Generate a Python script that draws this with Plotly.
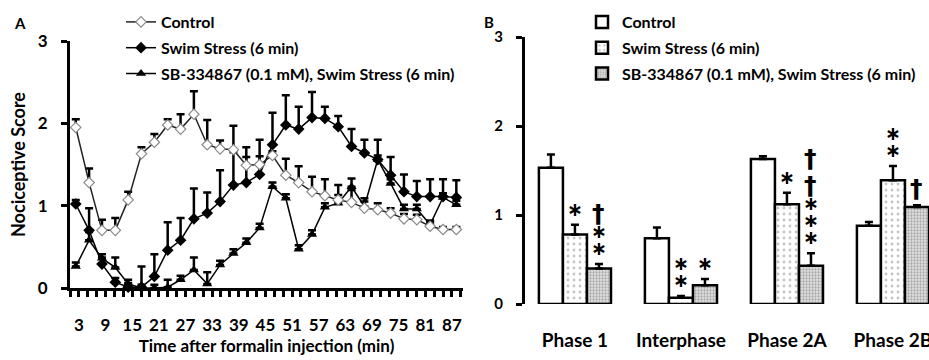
import plotly.graph_objects as go

# ---------------- Panel A data ----------------
time_min = [2.3, 5.3, 8.2, 11.2, 14.1, 17.1, 20.0, 23.0, 25.9, 28.9,
            31.9, 34.8, 37.8, 40.7, 43.7, 46.6, 49.6, 52.5, 55.5, 58.4,
            61.4, 64.4, 67.3, 70.3, 73.2, 76.2, 79.1, 82.1, 85.0, 88.0]
control = [1.95, 1.28, 0.70, 0.70, 1.07, 1.63, 1.77, 1.98, 1.93, 2.11,
           1.74, 1.69, 1.68, 1.49, 1.50, 1.61, 1.37, 1.28, 1.17, 1.12,
           1.07, 1.04, 0.97, 0.95, 0.91, 0.84, 0.83, 0.75, 0.71, 0.71]
control_err = [0.10, 0.17, 0.13, 0.15, 0.10, 0.08, 0.10, 0.07, 0.18, 0.28,
               0.30, 0.10, 0.29, 0.10, 0.10, 0.05, 0.20, 0.20, 0.18, 0.20,
               0.18, 0.15, 0.08, 0.08, 0.06, 0.06, 0.06, 0.05, 0.03, 0.03]
swim = [1.02, 0.70, 0.29, 0.07, 0.01, 0.01, 0.14, 0.46, 0.58, 0.84,
        0.91, 1.05, 1.25, 1.28, 1.38, 1.74, 1.98, 1.93, 2.07, 2.06,
        1.96, 1.72, 1.64, 1.56, 1.37, 1.17, 1.11, 1.11, 1.11, 1.10]
swim_err = [0.05, 0.27, 0.08, 0.05, 0.05, 0.25, 0.27, 0.34, 0.27, 0.37,
            0.25, 0.38, 0.40, 0.43, 0.42, 0.39, 0.36, 0.27, 0.31, 0.14,
            0.13, 0.21, 0.16, 0.24, 0.22, 0.21, 0.19, 0.21, 0.21, 0.21]
sb = [0.26, 0.58, 0.36, 0.25, 0.05, 0.00, 0.00, 0.01, 0.10, 0.22,
      0.05, 0.28, 0.42, 0.55, 0.73, 1.23, 1.09, 0.47, 0.65, 0.98,
      1.03, 1.23, 0.99, 1.56, 1.27, 0.96, 0.96, 0.77, 1.10, 1.01]
sb_err = [0.05, 0.10, 0.05, 0.12, 0.05, 0.04, 0.04, 0.09, 0.05, 0.15,
          0.14, 0.05, 0.05, 0.05, 0.05, 0.05, 0.05, 0.05, 0.05, 0.05,
          0.10, 0.10, 0.10, 0.05, 0.05, 0.05, 0.05, 0.05, 0.05, 0.05]

# ---------------- Panel B data ----------------
phases = ["Phase 1", "Interphase", "Phase 2A", "Phase 2B"]
ctrl_bar = [1.53, 0.74, 1.63, 0.88]
ctrl_bar_err = [0.15, 0.12, 0.03, 0.04]
swim_bar = [0.78, 0.07, 1.12, 1.39]
swim_bar_err = [0.11, 0.02, 0.13, 0.16]
sb_bar = [0.40, 0.21, 0.43, 1.09]
sb_bar_err = [0.05, 0.07, 0.14, 0.02]
# significance marks, listed bottom -> top
swim_marks = ["*", "**", "*", "**"]
sb_marks = ["**†", "*", "***††", "†"]

names = ["Control", "Swim Stress (6 min)", "SB-334867 (0.1 mM), Swim Stress (6 min)"]

FONT = "Lato"
W, H = 929, 360

fig = go.Figure()

def err(arr):
    return dict(type="data", symmetric=False, array=arr, arrayminus=[0] * len(arr),
                color="black", thickness=2.5, width=4)

# Panel A traces
fig.add_trace(go.Scatter(x=time_min, y=swim, name=names[1], mode="lines+markers",
                         line=dict(color="black", width=1.5),
                         marker=dict(symbol="diamond", size=9, color="black"),
                         error_y=err(swim_err), cliponaxis=False, legendgroup="a2",
                         xaxis="x", yaxis="y", legend="legend", legendrank=2))
fig.add_trace(go.Scatter(x=time_min, y=sb, name=names[2], mode="lines+markers",
                         line=dict(color="black", width=1.5),
                         marker=dict(symbol="triangle-up", size=9, color="black"),
                         error_y=err(sb_err), cliponaxis=False, legendgroup="a3",
                         xaxis="x", yaxis="y", legend="legend", legendrank=3))
fig.add_trace(go.Scatter(x=time_min, y=control, name=names[0], mode="lines+markers",
                         line=dict(color="#222222", width=1.5),
                         marker=dict(symbol="diamond", size=8, color="white",
                                     line=dict(color="#8a8a8a", width=1.2)),
                         error_y=err(control_err), cliponaxis=False, legendgroup="a1",
                         xaxis="x", yaxis="y", legend="legend", legendrank=1))

# Panel B traces
bar_line = dict(color="black", width=2.5)
fig.add_trace(go.Bar(x=phases, y=ctrl_bar, name=names[0], legendgroup="b1",
                     marker=dict(color="white", line=bar_line),
                     error_y=err(ctrl_bar_err), xaxis="x2", yaxis="y2", legend="legend2"))
fig.add_trace(go.Bar(x=phases, y=swim_bar, name=names[1], legendgroup="b2",
                     marker=dict(color="white", line=bar_line,
                                 pattern=dict(shape=".", fgcolor="#8c8c8c", bgcolor="white",
                                              size=6, solidity=0.18)),
                     error_y=err(swim_bar_err), xaxis="x2", yaxis="y2", legend="legend2"))
fig.add_trace(go.Bar(x=phases, y=sb_bar, name=names[2], legendgroup="b3",
                     marker=dict(color="white", line=bar_line,
                                 pattern=dict(shape=".", fgcolor="#6e6e6e", bgcolor="#e2e2e2",
                                              size=3, solidity=0.45)),
                     error_y=err(sb_bar_err), xaxis="x2", yaxis="y2", legend="legend2"))

# significance annotations
bargap = 0.32
bw = (1 - bargap) / 3
for gi in range(len(phases)):
    for j, (vals, errs, marks) in enumerate([(swim_bar, swim_bar_err, swim_marks),
                                             (sb_bar, sb_bar_err, sb_marks)]):
        xpos = gi + j * bw  # swim = centre bar, sb = right bar
        top = vals[gi] + errs[gi]
        shift = 3
        for m in marks[gi]:
            if m == "*":
                fig.add_annotation(x=xpos, y=top, xref="x2", yref="y2", text="∗",
                                   showarrow=False, yanchor="bottom", yshift=shift,
                                   font=dict(family="DejaVu Sans", size=19, color="black", weight="bold"))
                shift += 17
            else:
                fig.add_annotation(x=xpos, y=top, xref="x2", yref="y2", text="†",
                                   showarrow=False, yanchor="bottom", yshift=shift - 3,
                                   font=dict(family="DejaVu Sans", size=25, color="black", weight="bold"))
                shift += 27

# panel letters
fig.add_annotation(x=20 / W, y=1 - 23 / H, xref="paper", yref="paper", text="A",
                   xanchor="center", yanchor="middle", showarrow=False,
                   font=dict(family=FONT, size=15, weight="bold", color="black"))
fig.add_annotation(x=489 / W, y=1 - 22 / H, xref="paper", yref="paper", text="B",
                   xanchor="center", yanchor="middle", showarrow=False,
                   font=dict(family=FONT, size=15, weight="bold", color="black"))

axis_common = dict(showgrid=False, zeroline=False, showline=True, linecolor="black",
                   linewidth=3, ticks="outside", tickcolor="black", tickwidth=3, ticklen=6,
                   automargin=False)

fig.update_layout(
    width=W, height=H, margin=dict(l=0, r=0, t=0, b=0, autoexpand=False),
    paper_bgcolor="white", plot_bgcolor="white",
    font=dict(family=FONT, color="black"),
    barmode="group", bargap=bargap, bargroupgap=0.0,
    xaxis=dict(domain=[70 / W, 463 / W], range=[1, 89.5], anchor="y",
               tickmode="linear", tick0=3, dtick=6, ticklabelstandoff=14,
               tickfont=dict(family=FONT, size=17, color="black", weight="bold"),
               minor=dict(tick0=1, dtick=2, ticks="outside", ticklen=6, tickwidth=3, tickcolor="black"),
               title=dict(text="Time after formalin injection (min)", standoff=0,
                          font=dict(family=FONT, size=17, weight="bold", color="black")),
               **axis_common),
    yaxis=dict(domain=[72 / H, 319 / H], range=[0, 3], anchor="x",
               tickvals=[0, 1, 2, 3], ticklabelstandoff=10,
               tickfont=dict(family=FONT, size=17, color="black", weight="bold"),
               title=dict(text="Nociceptive Score", standoff=8,
                          font=dict(family=FONT, size=18, weight="bold", color="black")),
               **axis_common),
    xaxis2=dict(domain=[523 / W, 1.0], range=[-0.49, 3.34], anchor="y2", type="category",
                showgrid=False, zeroline=False, showline=False, ticks="", automargin=False,
                tickfont=dict(family=FONT, size=19, color="black", weight="bold"),
                ticklabelstandoff=23),
    yaxis2=dict(domain=[56 / H, 323 / H], range=[0, 3], anchor="free", position=523 / W,
                tickvals=[0, 1, 2, 3], ticklabelstandoff=10,
                tickfont=dict(family=FONT, size=15, color="black", weight="bold"),
                **axis_common),
    legend=dict(x=121 / W, y=1 - 5 / H, xanchor="left", yanchor="top",
                bgcolor="rgba(0,0,0,0)", tracegroupgap=2, itemwidth=30,
                font=dict(family=FONT, size=16, weight="bold", color="black")),
    legend2=dict(x=582 / W, y=1 - 5 / H, xanchor="left", yanchor="top",
                 bgcolor="rgba(0,0,0,0)", tracegroupgap=2, itemwidth=30,
                 font=dict(family=FONT, size=16, weight="bold", color="black")),
)

fig.write_html("out.html", config={"displayModeBar": False},
               post_script="document.body.style.margin='0';")
